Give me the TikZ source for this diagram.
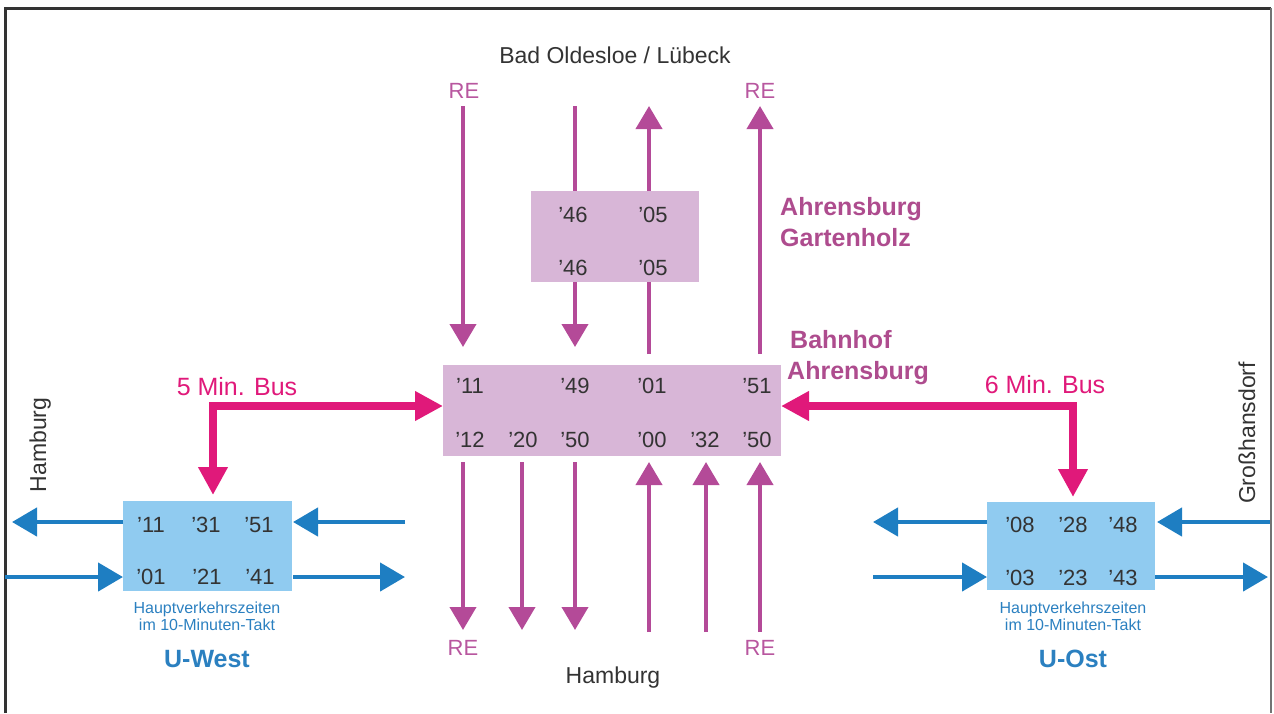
\documentclass[tikz,border=0pt]{standalone}
\usepackage{fontspec}
\setmainfont{Liberation Sans}
\usetikzlibrary{arrows.meta}

\definecolor{railc}{HTML}{B44A98}
\definecolor{relab}{HTML}{B8579F}
\definecolor{stationc}{HTML}{AE4C8E}
\definecolor{busc}{HTML}{E0197A}
\definecolor{pboxc}{HTML}{D8B6D7}
\definecolor{bboxc}{HTML}{90CBF0}
\definecolor{ubahnc}{HTML}{1E7EC2}
\definecolor{ublue}{HTML}{2B80C0}
\definecolor{darktxt}{HTML}{333333}

\begin{document}
\begin{tikzpicture}[x=1pt,y=-1pt,
  pbox/.style={fill=pboxc,draw=none,inner sep=0pt,anchor=north west},
  bbox/.style={fill=bboxc,draw=none,inner sep=0pt,anchor=north west},
  time/.style={anchor=base,inner sep=0pt,text=darktxt,font=\fontsize{22}{26}\selectfont},
  place/.style={anchor=base,inner sep=0pt,text=darktxt,font=\fontsize{23}{27}\selectfont},
  relabel/.style={anchor=base,inner sep=0pt,text=relab,font=\fontsize{22}{26}\selectfont},
  station/.style={anchor=base west,inner sep=0pt,text=stationc,font=\bfseries\fontsize{25}{31}\selectfont},
  buslabel/.style={anchor=base,inner sep=0pt,text=busc,font=\fontsize{25}{29}\selectfont},
  note/.style={anchor=base,inner sep=0pt,text=ublue,font=\fontsize{16}{17}\selectfont},
  uname/.style={anchor=base,inner sep=0pt,text=ublue,font=\bfseries\fontsize{25}{29}\selectfont},
  railline/.style={draw=railc,line width=4pt},
  railarrow/.style={railline,-{Triangle[width=26pt,length=23pt]}},
  busarrow/.style={draw=busc,line width=8pt,line join=miter,
    {Triangle[width=28pt,length=28pt]}-{Triangle[width=28pt,length=28pt]}},
  uarrow/.style={draw=ubahnc,line width=4.5pt,-{Triangle[width=28pt,length=25pt]}}]

\useasboundingbox (0,0) rectangle (1274,713);

% frame
\draw[line width=3pt,draw=black!80] (5,713) -- (5,8) -- (1271,8);
\draw[line width=2pt,draw=black!55] (1271,8) -- (1271,713);

% station boxes
\node[pbox,minimum width=338pt,minimum height=91pt] (main) at (443,365) {};
\node[pbox,minimum width=168pt,minimum height=91pt] (gh) at (531,191) {};
\node[bbox,minimum width=169pt,minimum height=90pt] (uw) at (123,501) {};
\node[bbox,minimum width=168pt,minimum height=88pt] (uo) at (987,502) {};

% regional line, northern branch
\coordinate (dT1s) at (463,106); \coordinate (dT1e) at (463,347);
\coordinate (dT2s) at (575,106); \coordinate (dT2e) at (575,347);
\coordinate (uT1s) at (649,354); \coordinate (uT1e) at (649,106);
\coordinate (uT2s) at (760,354); \coordinate (uT2e) at (760,106);
\draw[railarrow] (dT1s) -- (dT1e);
\draw[railline] (dT2s) -- (gh.north -| dT2s);
\draw[railarrow] (gh.south -| dT2s) -- (dT2e);
\draw[railline] (uT1s) -- (gh.south -| uT1s);
\draw[railarrow] (gh.north -| uT1s) -- (uT1e);
\draw[railarrow] (uT2s) -- (uT2e);

% regional line, southern branch
\coordinate (dB1s) at (463,462); \coordinate (dB1e) at (463,630);
\coordinate (dB2s) at (522,462); \coordinate (dB2e) at (522,630);
\coordinate (dB3s) at (575,462); \coordinate (dB3e) at (575,630);
\coordinate (uB1s) at (649,632); \coordinate (uB1e) at (649,462);
\coordinate (uB2s) at (706,632); \coordinate (uB2e) at (706,462);
\coordinate (uB3s) at (760,632); \coordinate (uB3e) at (760,462);
\draw[railarrow] (dB1s) -- (dB1e);
\draw[railarrow] (dB2s) -- (dB2e);
\draw[railarrow] (dB3s) -- (dB3e);
\draw[railarrow] (uB1s) -- (uB1e);
\draw[railarrow] (uB2s) -- (uB2e);
\draw[railarrow] (uB3s) -- (uB3e);

% bus links
\coordinate (bwS) at (213,495); \coordinate (bwC) at (213,406); \coordinate (bwE) at (443,406);
\coordinate (boS) at (781,406); \coordinate (boC) at (1073,406); \coordinate (boE) at (1073,497);
\draw[busarrow] (bwS) -- (bwC) -- (bwE);
\draw[busarrow] (boS) -- (boC) -- (boE);

% U-Bahn arrows west
\coordinate (uwA) at (123,522); \coordinate (uwB) at (12,522);
\coordinate (uwC) at (405,522); \coordinate (uwD) at (293,522);
\coordinate (uwE) at (5,577);   \coordinate (uwF) at (123,577);
\coordinate (uwG) at (293,577); \coordinate (uwH) at (405,577);
\draw[uarrow] (uwA) -- (uwB);
\draw[uarrow] (uwC) -- (uwD);
\draw[uarrow] (uwE) -- (uwF);
\draw[uarrow] (uwG) -- (uwH);

% U-Bahn arrows east
\coordinate (uoA) at (987,522);  \coordinate (uoB) at (873,522);
\coordinate (uoC) at (1270,522); \coordinate (uoD) at (1157,522);
\coordinate (uoE) at (873,577);  \coordinate (uoF) at (987,577);
\coordinate (uoG) at (1155,577); \coordinate (uoH) at (1268,577);
\draw[uarrow] (uoA) -- (uoB);
\draw[uarrow] (uoC) -- (uoD);
\draw[uarrow] (uoE) -- (uoF);
\draw[uarrow] (uoG) -- (uoH);

% departure minutes, Gartenholz
\node[time] (g1) at (573,222) {’46};
\node[time] (g2) at (653,222) {’05};
\node[time] (g3) at (573,275) {’46};
\node[time] (g4) at (653,275) {’05};

% departure minutes, Bahnhof Ahrensburg
\node[time] (m1) at (470,393) {’11};
\node[time] (m2) at (575,393) {’49};
\node[time] (m3) at (652,393) {’01};
\node[time] (m4) at (757,393) {’51};
\node[time] (m5) at (470,447) {’12};
\node[time] (m6) at (523,447) {’20};
\node[time] (m7) at (575,447) {’50};
\node[time] (m8) at (652,447) {’00};
\node[time] (m9) at (705,447) {’32};
\node[time] (m10) at (757,447) {’50};

% departure minutes, U-West
\node[time] (w1) at (151,532) {’11};
\node[time] (w2) at (206,532) {’31};
\node[time] (w3) at (259,532) {’51};
\node[time] (w4) at (151,584) {’01};
\node[time] (w5) at (207,584) {’21};
\node[time] (w6) at (260,584) {’41};

% departure minutes, U-Ost
\node[time] (o1) at (1020,532) {’08};
\node[time] (o2) at (1073,532) {’28};
\node[time] (o3) at (1123,532) {’48};
\node[time] (o4) at (1020,585) {’03};
\node[time] (o5) at (1073,585) {’23};
\node[time] (o6) at (1123,585) {’43};

% place names
\node[place] (north) at (615,63) {Bad Oldesloe / Lübeck};
\node[place] (south) at (613,683) {Hamburg};
\node[place,rotate=90] (west) at (46,445) {Hamburg};
\node[place,rotate=90] (east) at (1255,433) {Großhansdorf};

\node[relabel] (re1) at (464,98) {RE};
\node[relabel] (re2) at (760,98) {RE};
\node[relabel] (re3) at (463,655) {RE};
\node[relabel] (re4) at (760,655) {RE};

\node[station] (st1) at (780,215) {Ahrensburg};
\node[station] (st2) at (780,246) {Gartenholz};
\node[station] (st3) at (790,348) {Bahnhof};
\node[station] (st4) at (787,379) {Ahrensburg};

\node[buslabel] (bus5) at (237,395) {5 Min. Bus};
\node[buslabel] (bus6) at (1045,393) {6 Min. Bus};

\node[note] (nw1) at (207,613) {Hauptverkehrszeiten};
\node[note] (nw2) at (207,630) {im 10-Minuten-Takt};
\node[note] (no1) at (1073,613) {Hauptverkehrszeiten};
\node[note] (no2) at (1073,630) {im 10-Minuten-Takt};

\node[uname] (uwn) at (207,667) {U-West};
\node[uname] (uon) at (1073,667) {U-Ost};
\end{tikzpicture}
\end{document}
